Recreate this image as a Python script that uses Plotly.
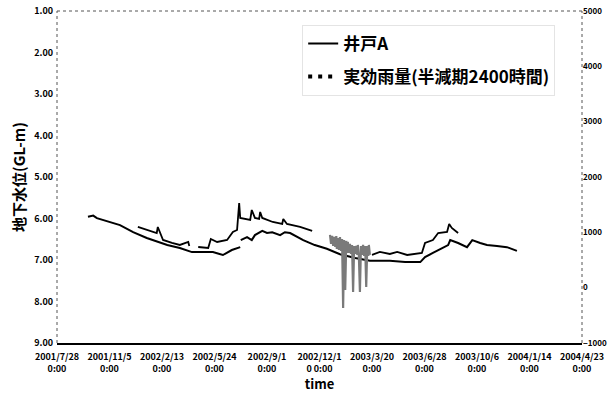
import plotly.graph_objects as go

# Groundwater level of well A (GL-m); None splits the record where the logger was reset
well_dates = [
    "2001-09-25", "2001-10-05", "2001-10-12", "2001-10-31", "2001-11-25", "2001-12-20",
    "2002-01-15", "2002-02-23", "2002-03-19", "2002-04-11", "2002-05-02", "2002-05-21",
    "2002-06-09", "2002-06-26", "2002-07-12",
    None,
    "2002-07-13", "2002-07-25", "2002-08-03", "2002-08-09", "2002-08-23", "2002-09-01",
    "2002-09-11", "2002-09-26", "2002-10-05", "2002-10-15", "2002-11-09", "2002-12-01",
    "2002-12-24", "2003-01-18", "2003-02-16", "2003-03-16", "2003-04-23", "2003-05-22",
    "2003-06-20", "2003-06-29", "2003-07-14", "2003-07-31", "2003-08-12", "2003-08-16",
    "2003-08-31", "2003-09-17", "2003-09-27", "2003-10-12", "2003-10-25", "2003-11-13",
    "2003-12-02", "2003-12-21",
]
well_level = [
    5.96, 5.93, 5.99, 6.06, 6.16, 6.33,
    6.47, 6.64, 6.71, 6.81, 6.81, 6.81,
    6.88, 6.76, 6.69,
    None,
    6.52, 6.45, 6.52, 6.40, 6.30, 6.35,
    6.33, 6.40, 6.33, 6.35, 6.52, 6.64,
    6.73, 6.86, 6.95, 7.02, 7.02, 7.05,
    7.05, 6.93, 6.83, 6.71, 6.64, 6.52,
    6.59, 6.69, 6.52, 6.59, 6.64, 6.66,
    6.69, 6.78,
]

# Effective rainfall (half-life 2400 h), mm
rain_dates = [
    "2001-12-29", "2002-01-15", "2002-02-03", "2002-02-05", "2002-02-15", "2002-03-04",
    "2002-03-19", "2002-04-04", "2002-04-06",
    None,
    "2002-04-23", "2002-05-12", "2002-05-17", "2002-05-29", "2002-06-17", "2002-06-28",
    "2002-07-06", "2002-07-10", "2002-07-12", "2002-07-31", "2002-08-03", "2002-08-09",
    "2002-08-17", "2002-08-19", "2002-08-23", "2002-09-12", "2002-09-30", "2002-10-02",
    "2002-10-09", "2002-11-03", "2002-11-26",
    None,
    "2003-03-20", "2003-04-04", "2003-04-23", "2003-05-07", "2003-05-26", "2003-06-06",
    "2003-06-23", "2003-06-29", "2003-07-14", "2003-07-24", "2003-08-10", "2003-08-14",
    "2003-08-19", "2003-08-31",
]
rain_mm = [
    1097, 1043, 988, 1097, 862, 808,
    772, 826, 754,
    None,
    735, 717, 880, 826, 862, 1007,
    1043, 1531, 1260, 1223, 1404, 1260,
    1242, 1368, 1260, 1187, 1151, 1242,
    1151, 1097, 1025,
    None,
    591, 645, 609, 645, 591, 609,
    627, 808, 862, 988, 1007, 1151,
    1079, 988,
]

# Noisy stretch of the rainfall record in winter 2002-2003
noise_dates = [
    "2002-12-30", "2003-01-01", "2003-01-03", "2003-01-05", "2003-01-07", "2003-01-09",
    "2003-01-11", "2003-01-12", "2003-01-14", "2003-01-16", "2003-01-18", "2003-01-20",
    "2003-01-22", "2003-01-24", "2003-01-26", "2003-01-28", "2003-01-30", "2003-02-01",
    "2003-02-02", "2003-02-04", "2003-02-06", "2003-02-08", "2003-02-10", "2003-02-12",
    "2003-02-14", "2003-02-16", "2003-02-18", "2003-02-20", "2003-02-21", "2003-02-23",
    "2003-02-25", "2003-02-27", "2003-03-01", "2003-03-03", "2003-03-05", "2003-03-07",
    "2003-03-09", "2003-03-11", "2003-03-13", "2003-03-14", "2003-03-16",
]
noise_mm = [
    952, 790, 934, 754, 916, 735,
    934, 699, 898, 681, 916, 663,
    880, -367, 862, -42, 844, 627,
    826, 627, 790, 609, 772, -78,
    754, 609, 754, 591, 772, 573,
    -78, 754, 591, 772, 573, 754,
    13, 754, 573, 772, 591,
]

tick_dates = [
    "2001-07-28", "2001-11-05", "2002-02-13", "2002-05-24", "2002-09-01", "2002-12-10",
    "2003-03-20", "2003-06-28", "2003-10-06", "2004-01-14", "2004-04-23",
]
tick_labels = [
    "2001/7/28<br>0:00", "2001/11/5<br>0:00", "2002/2/13<br>0:00", "2002/5/24<br>0:00",
    "2002/9/1<br>0:00", "2002/12/1<br>0 0:00", "2003/3/20<br>0:00", "2003/6/28<br>0:00",
    "2003/10/6<br>0:00", "2004/1/14<br>0:00", "2004/4/23<br>0:00",
]
level_ticks = [1, 2, 3, 4, 5, 6, 7, 8, 9]
rain_ticks = [-1000, 0, 1000, 2000, 3000, 4000, 5000]

FONT = "Noto Sans CJK JP"

fig = go.Figure()
fig.add_trace(go.Scatter(
    x=well_dates, y=well_level, mode="lines", name="井戸A",
    legendgroup="well", line=dict(color="black", width=2),
))
fig.add_trace(go.Scatter(
    x=rain_dates, y=rain_mm, mode="lines", yaxis="y2", name="実効雨量(半減期2400時間)",
    legendgroup="rain", showlegend=False, line=dict(color="black", width=1.8),
))
fig.add_trace(go.Scatter(
    x=noise_dates, y=noise_mm, mode="lines", yaxis="y2", name="実効雨量(半減期2400時間)",
    legendgroup="rain", showlegend=False, line=dict(color="#7a7a7a", width=2.2),
))
# legend key for the rainfall series
fig.add_trace(go.Scatter(
    x=[None], y=[None], mode="lines", yaxis="y2", name="実効雨量(半減期2400時間)",
    legendgroup="rain", line=dict(color="black", width=4, dash="4px,6px"),
))

fig.update_layout(
    width=613, height=397,
    margin=dict(l=57, r=31, t=11, b=54),
    paper_bgcolor="white", plot_bgcolor="white",
    font=dict(family=FONT, color="black"),
    showlegend=True,
    legend=dict(
        x=0.467, y=0.958, xanchor="left", yanchor="top",
        bgcolor="rgba(0,0,0,0)", bordercolor="#e4e4e4", borderwidth=1,
        font=dict(family=FONT, size=17, weight="bold", color="black"),
        tracegroupgap=8, itemwidth=30, traceorder="grouped",
    ),
    xaxis=dict(
        type="date", range=["2001-07-28", "2004-04-23"],
        tickmode="array", tickvals=tick_dates, ticktext=tick_labels,
        tickfont=dict(family=FONT, size=9, weight="bold"),
        showgrid=False, zeroline=False, showline=True, linecolor="black", linewidth=2,
        ticks="", automargin=False, ticklabelstandoff=4,
        title=dict(text="time", font=dict(family=FONT, size=13, weight="bold"), standoff=6),
    ),
    yaxis=dict(
        range=[9, 1], tickmode="array", tickvals=level_ticks, tickformat=".2f",
        tickfont=dict(family=FONT, size=9, weight="bold"),
        showgrid=False, zeroline=False, showline=False, ticks="", automargin=False,
        ticklabelstandoff=3,
        title=dict(text="地下水位(GL-m)", font=dict(family=FONT, size=15, weight="bold"), standoff=4),
    ),
    yaxis2=dict(
        overlaying="y", side="right", range=[-1000, 5000],
        tickmode="array", tickvals=rain_ticks,
        tickfont=dict(family=FONT, size=8, weight="bold"),
        showgrid=False, zeroline=False, showline=False, ticks="", automargin=False,
    ),
    shapes=[
        dict(type="line", xref="paper", yref="paper", x0=0, x1=0, y0=0, y1=1,
             line=dict(color="#555555", width=1, dash="dot")),
        dict(type="line", xref="paper", yref="paper", x0=1, x1=1, y0=0, y1=1,
             line=dict(color="#555555", width=1, dash="dot")),
        dict(type="line", xref="paper", yref="paper", x0=0, x1=1, y0=1, y1=1,
             line=dict(color="#555555", width=1, dash="dot")),
    ],
)

fig.write_html("out.html")
